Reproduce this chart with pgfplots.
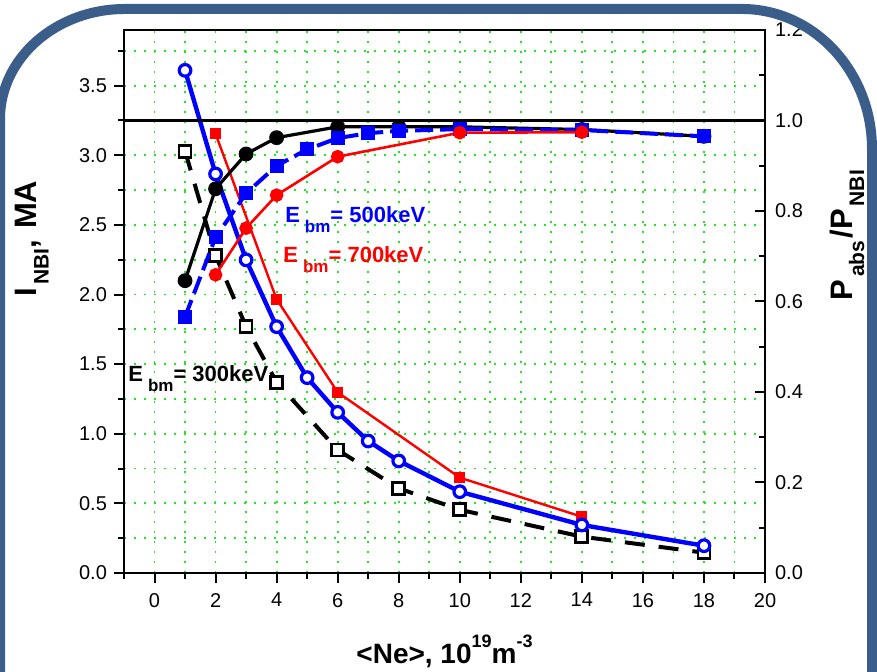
\documentclass[border=0pt]{standalone}
\usepackage{fontspec}
\setmainfont{Liberation Sans}
\usepackage{pgfplots}
\pgfplotsset{compat=1.18}
\definecolor{gridgreen}{RGB}{30,235,30}
\definecolor{framecol}{RGB}{59,93,138}
% raised/lowered small text: #1 shift, #2 size, #3 text
\newcommand\lsub[3]{\raisebox{#1}{\fontsize{#2}{#2}\selectfont #3}}

\begin{document}
\begin{tikzpicture}
\useasboundingbox (0,0) rectangle (438.5pt,336pt);
\tikzset{note/.style={anchor=base west, inner sep=0pt, font=\bfseries\fontsize{11}{13}\selectfont}}
\pgfplotsset{
  common/.style={
    at={(62pt,49.5pt)}, anchor=south west, scale only axis,
    width=320.5pt, height=271.5pt,
    xmin=-1, xmax=20, ymin=0,
    ticklabel style={font=\fontsize{10}{12}\selectfont},
    /pgf/number format/assume math mode=true,
    axis line style={line width=1.2pt},
    major tick length=5pt, minor tick length=2.8pt,
    every tick/.style={black, line width=1pt},
  },
  gdots/.style={gridgreen, line width=0.9pt, dash pattern=on 0.9pt off 4.1pt},
}

% left axis: I_NBI
\begin{axis}[common,
    ymax=3.9,
    xtick={0,2,4,6,8,10,12,14,16,18,20},
    minor xtick={-1,1,3,5,7,9,11,13,15,17,19},
    ytick={0,0.5,1,1.5,2,2.5,3,3.5},
    minor ytick={0.25,0.75,1.25,1.75,2.25,2.75,3.25,3.75},
    xtick pos=bottom, ytick pos=left, tick align=outside,
    grid=both, major grid style={gdots}, minor grid style={gdots},
    yticklabel style={/pgf/number format/.cd, fixed, fixed zerofill, precision=1},
    xticklabel style={yshift=-1.5pt},
    xlabel={\textbf{<Ne>, 10\lsub{0.55em}{9}{19}m\lsub{0.55em}{9}{-3}}},
    xlabel style={at={(axis description cs:0.5,-0.166)}, anchor=base, font=\fontsize{14}{16}\selectfont},
    ylabel={\textbf{I\hspace{1.5pt}\lsub{-0.4em}{10.5}{NBI},\hspace{0.35em}MA}},
    ylabel style={at={(axis description cs:-0.144,0.616)}, anchor=center, font=\fontsize{15.5}{17}\selectfont},
]
% 300 keV, current
\addplot[black, line width=2pt, dash pattern=on 10pt off 7pt,
    mark=square*, mark size=3pt,
    mark options={solid, fill=white, draw=black, line width=1.4pt}] coordinates {
    (1,3.03) (2,2.28) (3,1.77) (4,1.37) (6,0.884) (8,0.608) (10,0.454) (14,0.261) (18,0.146)
};
% 700 keV, current
\addplot[red, line width=1.2pt, mark=square*, mark size=2.1pt,
    mark options={solid, fill=red}] coordinates {
    (2,3.154) (4,1.966) (6,1.298) (10,0.685) (14,0.404)
};
% 500 keV, current
\addplot[blue, line width=2.2pt, mark=*, mark size=2.9pt,
    mark options={solid, fill=white, draw=blue, line width=1.6pt}] coordinates {
    (1,3.61) (2,2.866) (3,2.249) (4,1.769) (5,1.403) (6,1.154) (7,0.948) (8,0.805) (10,0.584) (14,0.345) (18,0.196)
};
\node[note, text=blue] at (axis cs:4.27,2.52) {E\hspace{2.5pt}\lsub{-0.45em}{8.5}{bm}= 500keV};
\node[note, text=red] at (axis cs:4.21,2.227) {E\hspace{2.5pt}\lsub{-0.45em}{8.5}{bm}= 700keV};
\node[note, text=black] at (axis cs:-0.87,1.374) {E\hspace{2.5pt}\lsub{-0.45em}{8.5}{bm}= 300keV};
\end{axis}

% right axis: P_abs/P_NBI
\begin{axis}[common,
    ymax=1.2,
    axis x line=none, axis y line*=right,
    ytick={0,0.2,0.4,0.6,0.8,1.0,1.2},
    minor ytick={0.1,0.3,0.5,0.7,0.9,1.1},
    tick align=inside,
    yticklabel style={xshift=1.5pt, /pgf/number format/.cd, fixed, fixed zerofill, precision=1},
    ylabel={\textbf{P\hspace{1.5pt}\lsub{-0.38em}{10.5}{abs}\hspace{1pt}/P\hspace{1.5pt}\lsub{-0.38em}{10.5}{NBI}}},
    ylabel style={at={(axis description cs:1.128,0.622)}, anchor=center, rotate=0, font=\fontsize{15.5}{17}\selectfont},
]
\addplot[black, line width=1.3pt] coordinates {(-1,1.0) (20,1.0)};
% 300 keV, absorbed fraction
\addplot[black, line width=1.6pt, mark=*, mark size=2.9pt, mark options={fill=black}] coordinates {
    (1,0.646) (2,0.849) (3,0.926) (4,0.962) (6,0.986) (8,0.986) (10,0.986) (14,0.980) (18,0.965)
};
% 500 keV, absorbed fraction
\addplot[blue, line width=2pt, dash pattern=on 9pt off 3.5pt, mark=square*, mark size=2.5pt,
    mark options={solid, fill=blue}] coordinates {
    (1,0.566) (2,0.742) (3,0.839) (4,0.900) (5,0.936) (6,0.961) (7,0.972) (8,0.977) (10,0.981) (14,0.979) (18,0.965)
};
% 700 keV, absorbed fraction
\addplot[red, line width=1.3pt, mark=*, mark size=2.75pt, mark options={fill=red}] coordinates {
    (2,0.659) (3,0.762) (4,0.835) (6,0.920) (10,0.973) (14,0.974)
};
\end{axis}

% rounded frame
\begin{scope}
\clip (0,0) rectangle (438.5pt,336pt);
\draw[framecol, line width=5pt] (0pt,-10pt) -- (0pt,276.5pt)
    arc[start angle=180, end angle=90, x radius=62.5pt, y radius=55pt]
    -- (371pt,331.5pt)
    arc[start angle=90, end angle=0, x radius=65pt, y radius=70pt]
    -- (436pt,-10pt);
\end{scope}
\end{tikzpicture}
\end{document}
